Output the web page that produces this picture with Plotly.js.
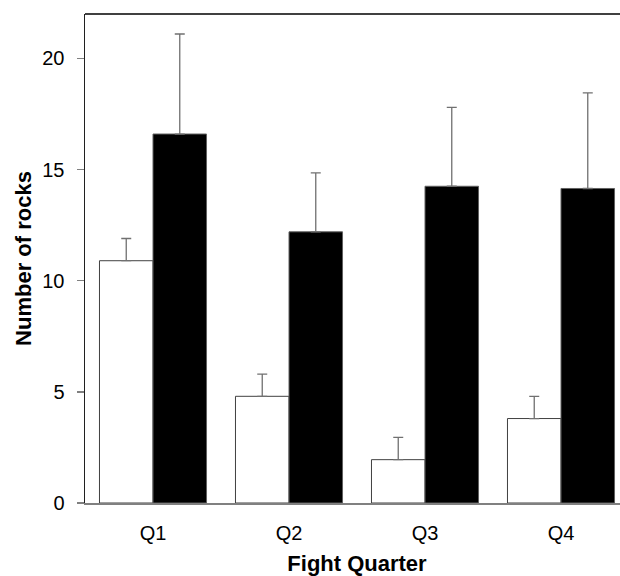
<!DOCTYPE html>
<html>
<head>
<meta charset="utf-8">
<script src="https://cdn.plot.ly/plotly-3.0.1.min.js"></script>
<style>
html, body { margin:0; padding:0; overflow:hidden; background:#fff; }
#chart { width:630px; height:576px; }
</style>
</head>
<body>
<div id="chart"></div>
<script>
const categories = ["Q1", "Q2", "Q3", "Q4"];
const whiteValues = [10.9, 4.8, 1.95, 3.8];
const whiteErrors = [1.0, 1.0, 1.0, 1.0];
const blackValues = [16.6, 12.2, 14.25, 14.15];
const blackErrors = [4.5, 2.65, 3.55, 4.3];
const yTickValues = [0, 5, 10, 15, 20];

const errStyle = { color: '#707070', thickness: 1.3, width: 5 };

const traces = [
  {
    type: 'bar', x: categories, y: whiteValues, name: 'white',
    marker: { color: '#ffffff', line: { color: '#404040', width: 1 } },
    error_y: Object.assign({ type: 'data', array: whiteErrors, arrayminus: [0,0,0,0], symmetric: false }, errStyle)
  },
  {
    type: 'bar', x: categories, y: blackValues, name: 'black',
    marker: { color: '#000000', line: { color: '#606060', width: 1 } },
    error_y: Object.assign({ type: 'data', array: blackErrors, arrayminus: [0,0,0,0], symmetric: false }, errStyle)
  }
];

const layout = {
  width: 630, height: 576,
  margin: { l: 85, r: 1, t: 14, b: 73 },
  paper_bgcolor: '#fff', plot_bgcolor: '#fff',
  showlegend: false,
  barmode: 'group', bargap: 0.213, bargroupgap: 0,
  font: { family: 'Liberation Sans, Arial, sans-serif', color: '#000' },
  xaxis: {
    type: 'category', range: [-0.5, 3.5],
    showline: true, linecolor: '#808080', linewidth: 1.5,
    mirror: false, ticks: '', showgrid: false, zeroline: false,
    tickfont: { size: 20 }, ticklabelstandoff: 11,
    title: { text: '<b>Fight Quarter</b>', font: { size: 22 }, standoff: 15 }
  },
  yaxis: {
    range: [0, 22], tickvals: yTickValues,
    showline: true, linecolor: '#202020', linewidth: 1.5,
    ticks: 'outside', ticklen: 7, tickcolor: '#808080', tickwidth: 1.3,
    showgrid: false, zeroline: false,
    tickfont: { size: 20 }, ticklabelstandoff: 8,
    title: { text: '<b>Number of rocks</b>', font: { size: 22 }, standoff: 4 }
  },
  shapes: [
    { type: 'line', xref: 'paper', yref: 'paper', x0: 0, x1: 1, y0: 1, y1: 1, line: { color: '#000', width: 1.5 } }
  ]
};

Plotly.newPlot('chart', traces, layout, { staticPlot: true, displayModeBar: false });
</script>
</body>
</html>
